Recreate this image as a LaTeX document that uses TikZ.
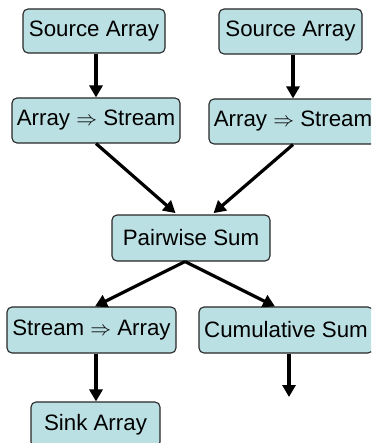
\documentclass[tikz,border=0pt]{standalone}
\usepackage{fontspec}
\setmainfont{Liberation Sans}
\usetikzlibrary{arrows.meta}
\definecolor{boxfill}{HTML}{BBE0E3}
\definecolor{boxline}{HTML}{262626}
\tikzset{
  box/.style={draw=boxline, line width=1.1pt, fill=boxfill, rounded corners=5pt,
    inner sep=0pt, align=center, font=\fontsize{22.3}{26}\selectfont},
  arr/.style={line width=3.2pt, -{Triangle[length=12pt,width=13pt]}},
}
\begin{document}
\begin{tikzpicture}[x=1pt, y=-1pt]
  \useasboundingbox (0,0) rectangle (371,443);
  \clip (0,0) rectangle (371,443);
  % processing stages
  \node[box, minimum width=142pt, minimum height=44pt] (sa1) at (94,31) {Source Array};
  \node[box, minimum width=143pt, minimum height=45pt] (sa2) at (290.5,31.5) {Source Array};
  \node[box, minimum width=168pt, minimum height=45pt] (as1) at (96,120.5) {Array $\Rightarrow$ Stream};
  \node[box, minimum width=168pt, minimum height=45pt] (as2) at (293,121.5) {Array $\Rightarrow$ Stream};
  \node[box, minimum width=158pt, minimum height=46pt] (ps) at (191,238) {Pairwise Sum};
  \node[box, minimum width=169pt, minimum height=46pt] (sta) at (91.5,330) {Stream $\Rightarrow$ Array};
  \node[box, minimum width=174pt, minimum height=46pt] (cs) at (286,330) {Cumulative Sum};
  \node[box, minimum width=129pt, minimum height=45pt] (sink) at (95.5,424.5) {Sink Array};
  \coordinate (out) at (289,397);
  % data flow
  \draw[arr] ([xshift=2pt]sa1.south) -- ([xshift=2pt]sa1.south |- as1.north);
  \draw[arr] ([xshift=2.5pt]sa2.south) -- ([xshift=2.5pt]sa2.south |- as2.north);
  \draw[arr, shorten >=2pt] (as1.south) -- ([xshift=-14pt]ps.north);
  \draw[arr, shorten >=2pt] (as2.south) -- ([xshift=21pt]ps.north);
  \draw[arr] ([xshift=-6pt]ps.south) -- ([xshift=3.5pt]sta.north);
  \draw[arr] ([xshift=-6pt]ps.south) -- ([xshift=-11pt]cs.north);
  \draw[arr] ([xshift=4.5pt]sta.south) -- ([xshift=4.5pt]sta.south |- sink.north);
  \draw[arr] (cs.south -| out) -- (out);
\end{tikzpicture}
\end{document}
